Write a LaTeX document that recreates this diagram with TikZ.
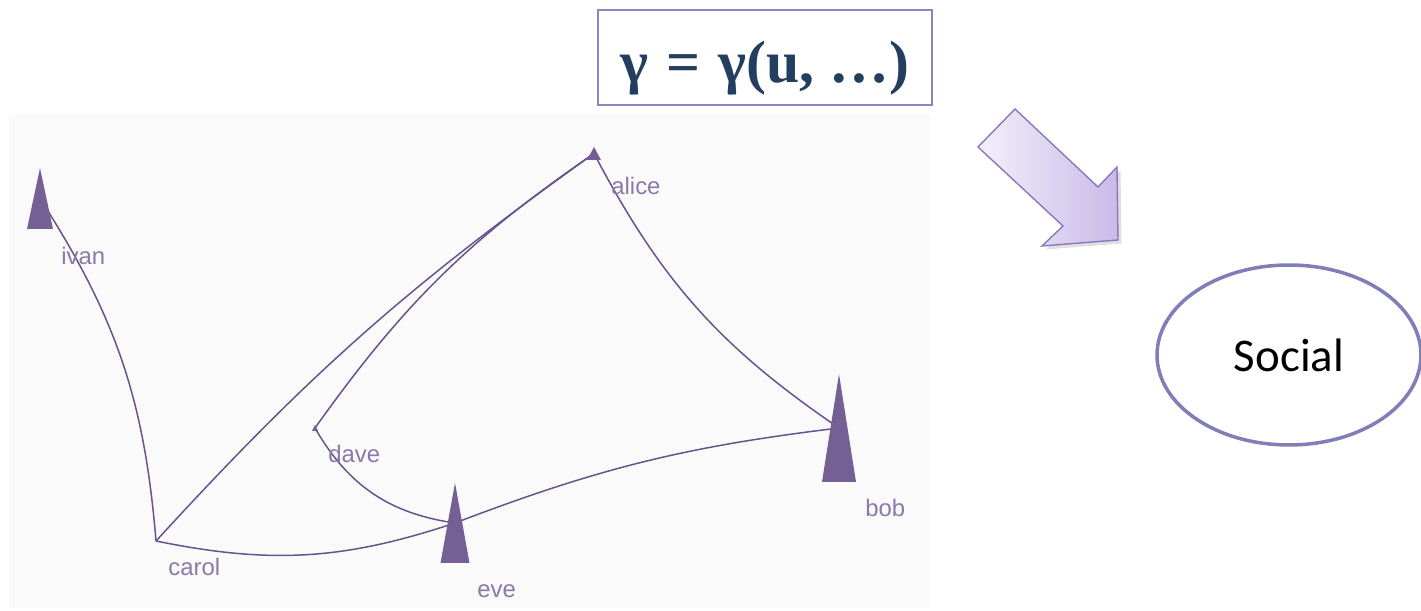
\documentclass[tikz,border=0pt]{standalone}
\usepackage{fontspec}
\newfontfamily\graphfont{Liberation Sans}
\newfontfamily\formfont{Liberation Serif}
\newfontfamily\ovalfont{Carlito}
\usetikzlibrary{arrows.meta, positioning, shapes.geometric, shadows, calc}

\definecolor{edgec}{RGB}{104,84,140}
\definecolor{vfill}{RGB}{117,96,148}
\definecolor{vlabel}{RGB}{138,122,168}
\definecolor{boxc}{RGB}{140,134,192}
\definecolor{formc}{RGB}{36,62,96}
\definecolor{ovalc}{RGB}{128,126,184}
\definecolor{arrowdark}{RGB}{200,186,232}
\definecolor{arrowlight}{RGB}{244,240,250}
\definecolor{arrowline}{RGB}{140,120,184}
\definecolor{panel}{RGB}{250,250,251}

\tikzset{%
   % graph edges and vertex labels of the social network panel
   edge/.style={
      draw=edgec,
      line width=0.85pt
   },
   vlab/.style={
      font=\graphfont\fontsize{13.6}{14}\selectfont,
      text=vlabel,
      inner sep=0pt,
      anchor=base west
   },
   formbox/.style={
      draw=boxc,
      line width=1.1pt,
      fill=white,
      minimum width=6.68cm,
      minimum height=1.9cm,
      inner sep=0pt,
      font=\formfont\bfseries\fontsize{34}{38}\selectfont,
      text=formc
   },
   oval/.style={
      ellipse,
      draw=ovalc,
      line width=2pt,
      minimum width=5.28cm,
      minimum height=3.6cm,
      inner sep=0pt,
      font=\ovalfont\fontsize{26.7}{30}\selectfont
   },
   bigarrow/.style={
      draw=arrowline,
      line width=0.8pt,
      line join=miter,
      left color=arrowlight,
      right color=arrowdark,
      drop shadow={opacity=0.25, shadow xshift=2pt, shadow yshift=-2pt}
   }
}
% filled upright triangle: centre, half width, half height
\newcommand{\vtri}[3]{\fill[vfill] (#1) ++(0,#3) -- ++(-#2,-2*#3) -- ++(2*#2,0) -- cycle;}

\begin{document}
\begin{tikzpicture}[x=0.02cm, y=0.02cm]
   \useasboundingbox (0,0) rectangle (1421,611);
   \fill[panel] (9,3) rectangle (930,497);

   % vertices
   \coordinate (ivan)  at (40,412.5);
   \coordinate (alice) at (594,457.5);
   \coordinate (dave)  at (315,183);
   \coordinate (carol) at (156,70);
   \coordinate (eve)   at (455,88);
   \coordinate (bob)   at (839,183);

   \draw[edge] (ivan)  to[bend left=14]  (carol);
   \draw[edge] (carol) to[bend left=6]   (alice);
   \draw[edge] (alice) to[bend right=10] (dave);
   \draw[edge] (dave)  to[bend right=26] (eve);
   \draw[edge] (carol) to[bend right=15] (eve);
   \draw[edge] (eve)   to[bend left=7]   (bob);
   \draw[edge] (alice) to[bend right=14] (bob);

   \vtri{ivan}{13}{30.5}
   \vtri{alice}{7}{6.5}
   \vtri{dave}{3}{3}
   \vtri{eve}{14.5}{40}
   \vtri{bob}{17}{54}

   \node[vlab] (ivanlab)  at (61,346)  {ivan};
   \node[vlab] (alicelab) at (611,416) {alice};
   \node[vlab] (davelab)  at (328,148) {dave};
   \node[vlab] (carollab) at (168,35)  {carol};
   \node[vlab] (evelab)   at (477,13)  {eve};
   \node[vlab] (boblab)   at (865,94)  {bob};

   % formula and arrow to the social model
   \node[formbox] (gamma) at (765,553.5)
      {\raisebox{-14.5pt}[0pt][0pt]{γ\hspace{0.3em}=\hspace{0.3em}γ(u, …)}};

   \path[bigarrow] (978,464) -- (1015,502) -- (1098,424) -- (1117,444)
      -- (1118,371) -- (1042,365) -- (1063,385) -- cycle;

   \node[oval] (social) at (1289,256) {Social};
\end{tikzpicture}
\end{document}
